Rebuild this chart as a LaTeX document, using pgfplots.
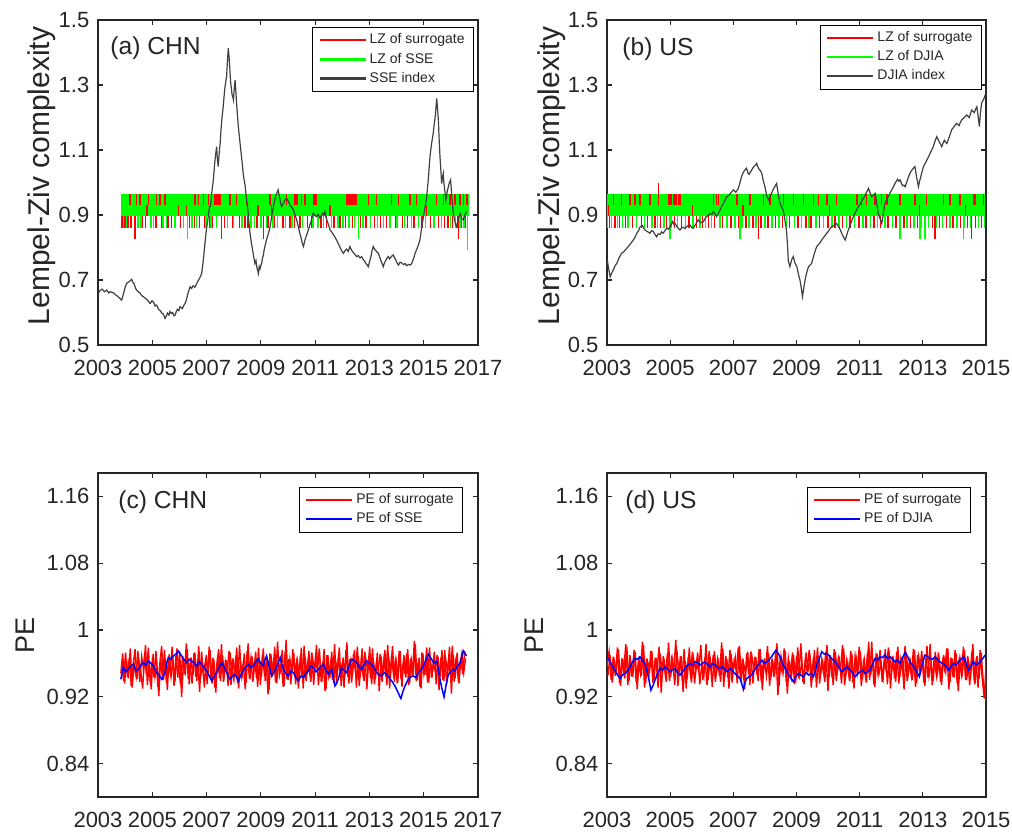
\documentclass[border=0pt]{standalone}
\usepackage{fontspec}
\setmainfont{Liberation Sans}
\usepackage{pgfplots}
\pgfplotsset{compat=1.18}
\usepackage{pgfplotstable}
\definecolor{txt}{HTML}{262626}
\definecolor{axc}{HTML}{262626}
\definecolor{idx}{HTML}{404040}
\definecolor{lzg}{rgb}{0,1,0}
\definecolor{lzr}{rgb}{1,0,0}
\definecolor{peb}{rgb}{0,0,1}

\pgfplotstableread{
y
0.948
0.972
0.936
0.965
0.942
0.978
0.931
0.960
0.945
0.975
0.938
0.968
0.952
0.982
0.934
0.963
0.929
0.971
0.944
0.958
0.921
0.966
0.940
0.976
0.937
0.961
0.948
0.980
0.933
0.969
0.943
0.974
0.920
0.962
0.950
0.977
0.935
0.967
0.946
0.973
0.939
0.981
0.944
0.959
0.931
0.970
0.949
0.976
0.936
0.964
0.925
0.968
0.942
0.983
0.938
0.962
0.951
0.975
0.934
0.966
0.945
0.979
0.930
0.961
0.947
0.972
0.937
0.984
0.941
0.969
0.950
0.974
0.932
0.963
0.944
0.978
0.939
0.967
0.928
0.971
0.946
0.980
0.936
0.960
0.952
0.976
0.933
0.988
0.940
0.965
0.949
0.973
0.935
0.962
0.943
0.979
0.930
0.968
0.947
0.975
0.938
0.966
0.951
0.982
0.934
0.961
0.945
0.977
0.929
0.970
0.942
0.974
0.937
0.964
0.950
0.979
0.933
0.967
0.946
0.985
0.936
0.962
0.948
0.976
0.931
0.969
0.944
0.978
0.939
0.965
0.952
0.980
0.935
0.963
0.941
0.973
0.927
0.968
0.947
0.976
0.934
0.966
0.949
0.981
0.938
0.962
0.945
0.975
0.932
0.970
0.943
0.977
0.936
0.964
0.951
0.983
0.940
0.967
0.930
0.972
0.946
0.979
0.937
0.961
0.948
0.974
0.935
0.968
0.944
0.976
0.939
0.965
0.950
0.980
0.924
0.970
0.942
0.973
0.936
0.966
0.947
0.975
}\pesurrc

\pgfplotstableread{
y
0.961
0.939
0.973
0.944
0.967
0.933
0.958
0.977
0.941
0.964
0.950
0.930
0.970
0.946
0.979
0.937
0.962
0.943
0.975
0.932
0.959
0.981
0.940
0.966
0.928
0.971
0.945
0.963
0.938
0.978
0.953
0.934
0.969
0.947
0.984
0.941
0.960
0.936
0.972
0.944
0.965
0.926
0.974
0.949
0.962
0.935
0.980
0.943
0.967
0.931
0.958
0.977
0.939
0.970
0.946
0.964
0.933
0.973
0.951
0.940
0.968
0.936
0.982
0.945
0.960
0.929
0.975
0.948
0.966
0.938
0.963
0.942
0.979
0.934
0.970
0.950
0.961
0.923
0.972
0.944
0.967
0.937
0.986
0.946
0.958
0.932
0.974
0.941
0.965
0.935
0.977
0.949
0.962
0.930
0.969
0.943
0.981
0.939
0.960
0.947
0.973
0.934
0.966
0.951
0.978
0.938
0.963
0.927
0.970
0.945
0.961
0.940
0.983
0.936
0.968
0.948
0.959
0.931
0.976
0.944
0.965
0.937
0.972
0.950
0.980
0.933
0.962
0.946
0.974
0.929
0.967
0.942
0.978
0.935
0.960
0.952
0.971
0.938
0.964
0.944
0.982
0.930
0.969
0.947
0.963
0.936
0.975
0.941
0.958
0.949
0.972
0.934
0.966
0.945
0.987
0.939
0.961
0.932
0.973
0.948
0.964
0.937
0.979
0.943
0.960
0.951
0.970
0.928
0.967
0.940
0.976
0.935
0.962
0.946
0.981
0.938
0.968
0.944
0.958
0.972
0.949
0.966
}\pesurrcb

\pgfplotstableread{
y
0.956
0.974
0.940
0.968
0.945
0.979
0.936
0.962
0.950
0.983
0.934
0.970
0.944
0.976
0.938
0.961
0.948
0.986
0.931
0.966
0.942
0.975
0.937
0.963
0.952
0.980
0.925
0.969
0.946
0.972
0.939
0.965
0.950
0.988
0.933
0.962
0.944
0.977
0.930
0.968
0.947
0.974
0.936
0.960
0.951
0.982
0.940
0.967
0.934
0.975
0.949
0.970
0.938
0.964
0.945
0.985
0.932
0.969
0.943
0.976
0.937
0.963
0.952
0.979
0.941
0.966
0.929
0.972
0.948
0.974
0.936
0.968
0.946
0.977
0.939
0.961
0.953
0.981
0.933
0.965
0.944
0.975
0.922
0.963
0.950
0.978
0.937
0.966
0.947
0.973
0.935
0.969
0.942
0.984
0.938
0.962
0.951
0.976
0.931
0.967
0.945
0.979
0.936
0.964
0.948
0.974
0.927
0.970
0.943
0.977
0.939
0.966
0.952
0.982
0.934
0.963
0.946
0.975
0.937
0.968
0.949
0.980
0.933
0.961
0.944
0.973
0.940
0.986
0.935
0.967
0.947
0.976
0.938
0.964
0.951
0.979
0.930
0.969
0.942
0.974
0.936
0.965
0.948
0.981
0.939
0.962
0.945
0.977
0.932
0.970
0.950
0.975
0.937
0.966
0.943
0.983
0.934
0.968
0.946
0.973
0.938
0.963
0.952
0.978
0.929
0.967
0.944
0.976
0.936
0.965
0.947
0.980
0.940
0.969
0.934
0.974
0.945
0.962
0.931
0.976
0.942
0.918
0.966
}\pesurrd

\pgfplotstableread{
y
0.946
0.970
0.937
0.963
0.951
0.977
0.933
0.966
0.942
0.980
0.939
0.960
0.948
0.974
0.929
0.968
0.945
0.982
0.936
0.962
0.953
0.975
0.940
0.967
0.931
0.972
0.947
0.961
0.938
0.985
0.944
0.964
0.934
0.976
0.950
0.969
0.926
0.963
0.942
0.979
0.937
0.966
0.952
0.973
0.935
0.960
0.946
0.983
0.940
0.968
0.932
0.975
0.949
0.962
0.938
0.978
0.944
0.965
0.930
0.971
0.951
0.967
0.936
0.981
0.943
0.961
0.947
0.974
0.934
0.969
0.955
0.964
0.939
0.977
0.928
0.966
0.945
0.972
0.941
0.962
0.948
0.984
0.933
0.968
0.950
0.975
0.924
0.963
0.944
0.970
0.937
0.979
0.946
0.961
0.935
0.973
0.952
0.966
0.940
0.976
0.931
0.969
0.947
0.962
0.938
0.982
0.943
0.967
0.934
0.974
0.950
0.964
0.936
0.978
0.945
0.961
0.939
0.971
0.930
0.968
0.953
0.975
0.941
0.963
0.937
0.986
0.946
0.966
0.932
0.972
0.948
0.960
0.943
0.977
0.935
0.969
0.950
0.964
0.938
0.980
0.944
0.967
0.929
0.973
0.947
0.962
0.940
0.976
0.936
0.968
0.952
0.965
0.933
0.981
0.945
0.961
0.939
0.974
0.948
0.963
0.934
0.970
0.951
0.978
0.937
0.966
0.943
0.972
0.927
0.964
0.949
0.976
0.940
0.962
0.946
0.983
0.935
0.969
0.942
0.973
0.938
0.921
0.961
}\pesurrdb

\pgfplotsset{
 base/.style={
  scale only axis, enlargelimits=false, clip=true,
  axis line style={draw=axc, line width=0.55pt},
  tick style={draw=axc, line width=0.55pt},
  tick align=inside, tick pos=both, major tick length=2.6pt,
  tick label style={font=\fontsize{11}{13}\selectfont, text=txt},
  xticklabel style={yshift=-3.8pt},
  yticklabel style={xshift=-0.8pt},
  legend cell align=left,
  legend style={font=\fontsize{7}{8}\selectfont, text=txt, draw=black,
    anchor=north east, inner ysep=1.6pt, nodes={inner sep=1.5pt}},
  legend image code/.code={\draw[line width=1.1pt, ##1] (0pt,0pt) -- (23pt,0pt);},
  ylabel style={text=txt, anchor=center},
 },
 lz/.style={base, ymin=0.5, ymax=1.5, ytick={0.5,0.7,0.9,1.1,1.3,1.5},
  yticklabels={0.5,0.7,0.9,1.1,1.3,1.5}, ylabel={Lempel-Ziv complexity},
  ylabel style={font=\fontsize{15}{17}\selectfont, at={(rel axis cs:-0.147,0.52)}}},
 pe/.style={base, ymin=0.8, ymax=1.188, ytick={0.84,0.92,1,1.08,1.16},
  yticklabels={0.84,0.92,1,1.08,1.16}, ylabel={PE},
  ylabel style={font=\fontsize{13.5}{15}\selectfont, at={(rel axis cs:-0.192,0.5)}}},
}
\tikzset{lab/.style={anchor=base west, inner sep=0pt, font=\fontsize{12.3}{14}\selectfont, text=txt}}

\begin{document}
\begin{tikzpicture}
\path[use as bounding box] (0pt,0pt) rectangle (506pt,-418.5pt);

% ---------------- (a) CHN LZ ----------------
\begin{axis}[lz, at={(49pt,-172.5pt)}, anchor=south west, width=190pt, height=162.5pt,
  xmin=2003, xmax=2017, xtick={2003,2005,2007,2009,2011,2013,2015,2017},
  xticklabels={2003,2005,2007,2009,2011,2013,2015,2017},
  legend style={at={(0.9895,0.978)}}]
\addplot[fill=lzg, draw=none, forget plot] coordinates {(2003.84,0.896) (2016.67,0.896) (2016.67,0.965) (2003.84,0.965)};
\addplot[lzr, line width=0.7pt, forget plot, quiver={u=0,v=0.035}] coordinates {
(2004.18,0.930)(2004.42,0.930)(2004.55,0.930)(2004.85,0.930)(2005.16,0.930)(2005.28,0.930)(2005.47,0.930)
(2006.57,0.930)(2006.70,0.930)(2006.88,0.930)(2007.07,0.930)(2007.31,0.930)(2007.38,0.930)(2007.43,0.930)
(2007.49,0.930)(2007.86,0.930)(2008.11,0.930)(2008.48,0.930)(2009.34,0.930)(2009.95,0.930)(2010.26,0.930)
(2010.29,0.930)(2010.32,0.930)(2010.35,0.930)(2010.50,0.930)(2010.63,0.930)(2010.93,0.930)(2011.00,0.930)
(2011.03,0.930)(2011.06,0.930)(2012.16,0.930)(2012.20,0.930)(2012.24,0.930)(2012.28,0.930)(2012.32,0.930)
(2012.36,0.930)(2012.41,0.930)(2012.45,0.930)(2012.49,0.930)(2012.53,0.930)(2012.96,0.930)(2013.27,0.930)
(2013.82,0.930)(2014.06,0.930)(2014.49,0.930)(2014.74,0.930)(2015.48,0.930)(2015.72,0.930)(2015.97,0.930)
(2016.15,0.930)(2016.34,0.930)(2016.46,0.930)(2016.60,0.930)};
\addplot[lzr, line width=0.7pt, forget plot, quiver={u=0,v=0.034}] coordinates {
(2004.80,0.896)(2005.96,0.896)(2006.27,0.896)(2008.90,0.896)(2009.40,0.896)(2011.55,0.896)(2015.11,0.896)};
\addplot[lzr, line width=0.7pt, forget plot, quiver={u=0,v=0.035}] coordinates {
(2003.88,0.861)(2003.99,0.861)(2004.10,0.861)(2004.22,0.861)(2004.64,0.861)(2004.76,0.861)(2005.14,0.861)
(2005.33,0.861)(2005.58,0.861)(2005.71,0.861)(2006.05,0.861)(2006.36,0.861)(2006.55,0.861)(2006.74,0.861)
(2006.93,0.861)(2007.11,0.861)(2007.22,0.861)(2007.67,0.861)(2007.95,0.861)(2008.22,0.861)(2008.41,0.861)
(2008.53,0.861)(2008.86,0.861)(2009.27,0.861)(2009.50,0.861)(2009.81,0.861)(2010.08,0.861)(2010.25,0.861)
(2010.44,0.861)(2010.71,0.861)(2010.86,0.861)(2011.22,0.861)(2011.42,0.861)(2011.70,0.861)(2011.92,0.861)
(2012.12,0.861)(2012.37,0.861)(2012.66,0.861)(2012.88,0.861)(2013.19,0.861)(2013.40,0.861)(2013.62,0.861)
(2013.97,0.861)(2014.21,0.861)(2014.40,0.861)(2014.64,0.861)(2014.93,0.861)(2015.25,0.861)(2015.55,0.861)
(2015.77,0.861)(2015.90,0.861)(2016.05,0.861)(2016.25,0.861)(2016.40,0.861)(2016.55,0.861)};
\addplot[lzg, line width=0.7pt, forget plot, quiver={u=0,v=0.035}] coordinates {
(2003.93,0.861)(2004.04,0.861)(2004.47,0.861)(2004.58,0.861)(2004.95,0.861)(2005.05,0.861)(2005.40,0.861)
(2005.52,0.861)(2005.84,0.861)(2006.16,0.861)(2006.46,0.861)(2006.63,0.861)(2006.98,0.861)(2007.16,0.861)
(2007.36,0.861)(2007.78,0.861)(2008.00,0.861)(2008.30,0.861)(2008.64,0.861)(2008.76,0.861)(2009.00,0.861)
(2009.20,0.861)(2009.44,0.861)(2009.62,0.861)(2009.90,0.861)(2010.14,0.861)(2010.54,0.861)(2010.92,0.861)
(2011.10,0.861)(2011.30,0.861)(2011.60,0.861)(2011.84,0.861)(2012.02,0.861)(2012.24,0.861)(2012.46,0.861)
(2012.76,0.861)(2013.05,0.861)(2013.30,0.861)(2013.52,0.861)(2013.76,0.861)(2014.02,0.861)(2014.30,0.861)
(2014.55,0.861)(2014.80,0.861)(2015.06,0.861)(2015.38,0.861)(2015.66,0.861)(2015.98,0.861)(2016.16,0.861)
(2016.33,0.861)(2016.48,0.861)};
\addplot[lzr, line width=0.7pt, forget plot, quiver={u=0,v=0.069}] coordinates {
(2004.36,0.827)(2007.56,0.827)(2009.09,0.827)(2016.28,0.827)};
\addplot[lzg, line width=0.7pt, forget plot, quiver={u=0,v=0.069}] coordinates {
(2006.30,0.827)(2012.59,0.827)};
\addplot[lzg, line width=0.7pt, forget plot, quiver={u=0,v=0.103}] coordinates {(2016.62,0.793)};
\addplot[idx, line width=0.6pt, forget plot] coordinates {
(2003.01,0.659)(2003.08,0.668)(2003.15,0.672)(2003.24,0.664)(2003.32,0.669)(2003.40,0.660)(2003.45,0.664)
(2003.56,0.661)(2003.64,0.655)(2003.72,0.650)(2003.80,0.644)(2003.87,0.638)(2003.92,0.652)(2003.96,0.665)
(2004.01,0.680)(2004.06,0.690)(2004.15,0.695)(2004.24,0.702)(2004.29,0.692)(2004.33,0.688)(2004.38,0.676)
(2004.42,0.669)(2004.49,0.663)(2004.55,0.660)(2004.61,0.652)(2004.67,0.649)(2004.74,0.644)(2004.80,0.640)
(2004.86,0.634)(2004.92,0.628)(2004.99,0.636)(2005.05,0.632)(2005.10,0.620)(2005.16,0.623)(2005.23,0.610)
(2005.30,0.605)(2005.35,0.598)(2005.40,0.596)(2005.47,0.582)(2005.52,0.590)(2005.56,0.598)(2005.61,0.592)
(2005.65,0.603)(2005.70,0.597)(2005.75,0.600)(2005.80,0.590)(2005.84,0.592)(2005.89,0.604)(2005.93,0.610)
(2005.98,0.606)(2006.02,0.618)(2006.07,0.615)(2006.11,0.612)(2006.16,0.622)(2006.21,0.628)(2006.26,0.640)
(2006.30,0.655)(2006.35,0.668)(2006.39,0.679)(2006.45,0.674)(2006.50,0.682)(2006.57,0.678)(2006.64,0.690)
(2006.69,0.698)(2006.74,0.705)(2006.78,0.712)(2006.82,0.720)(2006.88,0.760)(2006.94,0.813)(2007.00,0.860)
(2007.04,0.880)(2007.07,0.905)(2007.11,0.925)(2007.15,0.930)(2007.20,0.975)(2007.25,1.008)(2007.30,1.060)
(2007.34,1.090)(2007.37,1.110)(2007.40,1.070)(2007.43,1.049)(2007.47,1.095)(2007.50,1.120)(2007.53,1.160)
(2007.56,1.192)(2007.59,1.215)(2007.62,1.240)(2007.65,1.270)(2007.68,1.295)(2007.71,1.310)(2007.74,1.330)
(2007.77,1.375)(2007.80,1.413)(2007.83,1.385)(2007.85,1.360)(2007.87,1.330)(2007.89,1.305)(2007.92,1.285)
(2007.94,1.270)(2007.97,1.262)(2007.99,1.254)(2008.02,1.290)(2008.05,1.315)(2008.08,1.280)(2008.10,1.250)
(2008.14,1.205)(2008.17,1.172)(2008.21,1.140)(2008.26,1.100)(2008.30,1.070)(2008.35,1.028)(2008.38,1.010)
(2008.42,0.990)(2008.45,0.965)(2008.48,0.946)(2008.51,0.925)(2008.54,0.900)(2008.57,0.870)(2008.60,0.844)
(2008.65,0.815)(2008.70,0.790)(2008.74,0.770)(2008.78,0.751)(2008.82,0.760)(2008.85,0.740)(2008.88,0.730)
(2008.91,0.720)(2008.94,0.742)(2008.97,0.735)(2009.00,0.745)(2009.03,0.751)(2009.06,0.768)(2009.09,0.775)
(2009.12,0.792)(2009.15,0.803)(2009.20,0.822)(2009.25,0.835)(2009.30,0.850)(2009.34,0.864)(2009.38,0.885)
(2009.43,0.910)(2009.48,0.932)(2009.52,0.950)(2009.55,0.960)(2009.58,0.965)(2009.61,0.972)(2009.64,0.977)
(2009.67,0.962)(2009.70,0.950)(2009.73,0.935)(2009.77,0.926)(2009.81,0.934)(2009.86,0.940)(2009.90,0.948)
(2009.95,0.951)(2010.01,0.942)(2010.08,0.930)(2010.14,0.924)(2010.20,0.915)(2010.25,0.902)(2010.30,0.890)
(2010.34,0.878)(2010.38,0.864)(2010.43,0.846)(2010.48,0.830)(2010.52,0.815)(2010.57,0.803)(2010.61,0.818)
(2010.65,0.830)(2010.70,0.842)(2010.75,0.854)(2010.80,0.868)(2010.85,0.880)(2010.89,0.894)(2010.93,0.905)
(2010.99,0.899)(2011.05,0.895)(2011.11,0.902)(2011.18,0.890)(2011.23,0.898)(2011.28,0.905)(2011.32,0.900)
(2011.36,0.910)(2011.40,0.893)(2011.45,0.880)(2011.50,0.868)(2011.55,0.854)(2011.61,0.848)(2011.67,0.840)
(2011.73,0.832)(2011.79,0.823)(2011.85,0.812)(2011.92,0.800)(2011.98,0.790)(2012.04,0.782)(2012.10,0.790)
(2012.16,0.795)(2012.22,0.788)(2012.28,0.803)(2012.34,0.792)(2012.40,0.785)(2012.47,0.778)(2012.53,0.772)
(2012.59,0.775)(2012.65,0.768)(2012.71,0.772)(2012.78,0.762)(2012.83,0.757)(2012.88,0.750)(2012.92,0.746)
(2012.96,0.741)(2013.00,0.755)(2013.05,0.770)(2013.09,0.788)(2013.14,0.803)(2013.19,0.795)(2013.24,0.790)
(2013.28,0.786)(2013.33,0.782)(2013.38,0.770)(2013.42,0.760)(2013.47,0.750)(2013.51,0.741)(2013.55,0.752)
(2013.60,0.760)(2013.65,0.768)(2013.70,0.772)(2013.74,0.765)(2013.79,0.770)(2013.83,0.774)(2013.88,0.777)
(2013.93,0.768)(2013.98,0.760)(2014.02,0.752)(2014.07,0.746)(2014.13,0.755)(2014.20,0.752)(2014.26,0.747)
(2014.31,0.751)(2014.37,0.744)(2014.44,0.748)(2014.50,0.746)(2014.56,0.751)(2014.59,0.758)(2014.62,0.765)
(2014.65,0.772)(2014.68,0.782)(2014.72,0.790)(2014.77,0.800)(2014.82,0.812)(2014.86,0.823)(2014.89,0.840)
(2014.92,0.860)(2014.96,0.878)(2014.99,0.895)(2015.02,0.910)(2015.05,0.925)(2015.08,0.940)(2015.11,0.956)
(2015.14,0.985)(2015.17,1.010)(2015.20,1.045)(2015.23,1.079)(2015.26,1.100)(2015.29,1.120)(2015.32,1.135)
(2015.35,1.151)(2015.38,1.175)(2015.42,1.200)(2015.45,1.230)(2015.48,1.259)(2015.51,1.225)(2015.54,1.192)
(2015.57,1.130)(2015.60,1.079)(2015.63,1.040)(2015.66,0.997)(2015.69,1.015)(2015.72,1.028)(2015.74,1.000)
(2015.77,0.980)(2015.80,0.960)(2015.82,0.946)(2015.85,0.962)(2015.87,0.975)(2015.89,0.981)(2015.91,0.987)
(2015.93,0.995)(2015.95,1.000)(2015.97,1.004)(2015.99,1.008)(2016.02,0.975)(2016.04,0.950)(2016.07,0.925)
(2016.09,0.905)(2016.12,0.892)(2016.15,0.880)(2016.18,0.870)(2016.21,0.864)(2016.25,0.878)(2016.28,0.890)
(2016.31,0.897)(2016.34,0.905)(2016.37,0.898)(2016.40,0.890)(2016.43,0.887)(2016.46,0.885)(2016.49,0.894)
(2016.52,0.900)(2016.55,0.906)(2016.58,0.910)};
\addlegendimage{draw=lzr}\addlegendentry{LZ of surrogate}
\addlegendimage{draw=lzg}\addlegendentry{LZ of SSE}
\addlegendimage{draw=idx}\addlegendentry{SSE index}
\node[lab] at (rel axis cs:0.0316,0.895) {(a) CHN};
\end{axis}

% ---------------- (b) US LZ ----------------
\begin{axis}[lz, at={(303.5pt,-172.5pt)}, anchor=south west, width=189.5pt, height=162.5pt,
  xmin=2003, xmax=2015, xtick={2003,2005,2007,2009,2011,2013,2015},
  xticklabels={2003,2005,2007,2009,2011,2013,2015},
  legend style={at={(0.989,0.985)}}]
\addplot[fill=lzg, draw=none, forget plot] coordinates {(2003.01,0.896) (2014.98,0.896) (2014.98,0.965) (2003.01,0.965)};
\addplot[lzr, line width=0.7pt, forget plot, quiver={u=0,v=0.035}] coordinates {
(2003.20,0.930)(2003.46,0.930)(2003.73,0.930)(2003.89,0.930)(2004.04,0.930)(2004.36,0.930)(2004.94,0.930)
(2004.99,0.930)(2005.04,0.930)(2005.10,0.930)(2005.15,0.930)(2005.20,0.930)(2005.26,0.930)(2005.31,0.930)
(2006.37,0.930)(2006.47,0.930)(2006.53,0.930)(2007.11,0.930)(2007.53,0.930)(2007.95,0.930)(2008.16,0.930)
(2008.58,0.930)(2008.90,0.930)(2009.22,0.930)(2009.53,0.930)(2009.69,0.930)(2009.96,0.930)(2010.27,0.930)
(2010.91,0.930)(2011.06,0.930)(2011.22,0.930)(2011.49,0.930)(2011.70,0.930)(2011.86,0.930)(2012.28,0.930)
(2012.75,0.930)(2013.12,0.930)(2013.65,0.930)(2013.86,0.930)(2014.18,0.930)(2014.60,0.930)(2014.65,0.930)
(2014.92,0.930)};
\addplot[lzr, line width=0.7pt, forget plot, quiver={u=0,v=0.069}] coordinates {(2004.63,0.930)};
\addplot[lzr, line width=0.7pt, forget plot, quiver={u=0,v=0.034}] coordinates {
(2003.05,0.896)(2005.70,0.896)(2007.30,0.896)(2010.05,0.896)(2012.90,0.896)(2014.35,0.896)};
\addplot[lzr, line width=0.7pt, forget plot, quiver={u=0,v=0.035}] coordinates {
(2003.08,0.861)(2003.25,0.861)(2003.40,0.861)(2003.58,0.861)(2003.80,0.861)(2004.10,0.861)(2004.28,0.861)
(2004.52,0.861)(2004.70,0.861)(2004.88,0.861)(2005.13,0.861)(2005.36,0.861)(2005.60,0.861)(2005.84,0.861)
(2006.02,0.861)(2006.21,0.861)(2006.40,0.861)(2006.65,0.861)(2006.92,0.861)(2007.18,0.861)(2007.40,0.861)
(2007.62,0.861)(2007.88,0.861)(2008.10,0.861)(2008.33,0.861)(2008.55,0.861)(2008.78,0.861)(2009.05,0.861)
(2009.30,0.861)(2009.46,0.861)(2009.72,0.861)(2010.00,0.861)(2010.22,0.861)(2010.46,0.861)(2010.70,0.861)
(2010.98,0.861)(2011.20,0.861)(2011.45,0.861)(2011.66,0.861)(2011.90,0.861)(2012.15,0.861)(2012.40,0.861)
(2012.60,0.861)(2012.84,0.861)(2013.06,0.861)(2013.30,0.861)(2013.52,0.861)(2013.74,0.861)(2013.95,0.861)
(2014.20,0.861)(2014.42,0.861)(2014.66,0.861)(2014.85,0.861)};
\addplot[lzg, line width=0.7pt, forget plot, quiver={u=0,v=0.035}] coordinates {
(2003.02,0.861)(2003.14,0.861)(2003.33,0.861)(2003.50,0.861)(2003.66,0.861)(2003.94,0.861)(2004.18,0.861)
(2004.42,0.861)(2004.60,0.861)(2004.80,0.861)(2005.02,0.861)(2005.24,0.861)(2005.48,0.861)(2005.72,0.861)
(2005.95,0.861)(2006.12,0.861)(2006.30,0.861)(2006.58,0.861)(2006.80,0.861)(2007.05,0.861)(2007.28,0.861)
(2007.50,0.861)(2007.72,0.861)(2008.00,0.861)(2008.22,0.861)(2008.44,0.861)(2008.68,0.861)(2008.94,0.861)
(2009.16,0.861)(2009.40,0.861)(2009.62,0.861)(2009.86,0.861)(2010.12,0.861)(2010.35,0.861)(2010.58,0.861)
(2010.84,0.861)(2011.10,0.861)(2011.34,0.861)(2011.56,0.861)(2011.80,0.861)(2012.04,0.861)(2012.26,0.861)
(2012.50,0.861)(2012.72,0.861)(2012.96,0.861)(2013.18,0.861)(2013.42,0.861)(2013.62,0.861)(2013.86,0.861)
(2014.08,0.861)(2014.30,0.861)(2014.52,0.861)(2014.76,0.861)(2014.96,0.861)};
\addplot[lzr, line width=0.7pt, forget plot, quiver={u=0,v=0.069}] coordinates {
(2007.79,0.827)(2013.39,0.827)(2014.55,0.827)};
\addplot[lzg, line width=0.7pt, forget plot, quiver={u=0,v=0.069}] coordinates {
(2004.99,0.827)(2007.21,0.827)(2012.28,0.827)(2012.91,0.827)(2013.07,0.827)(2014.28,0.827)};
\addplot[idx, line width=0.6pt, forget plot] coordinates {
(2003.01,0.762)(2003.05,0.735)(2003.10,0.710)(2003.15,0.722)(2003.20,0.731)(2003.26,0.745)(2003.31,0.751)
(2003.38,0.768)(2003.46,0.782)(2003.54,0.788)(2003.62,0.797)(2003.72,0.808)(2003.83,0.823)(2003.89,0.832)
(2003.95,0.845)(2004.00,0.852)(2004.05,0.864)(2004.12,0.868)(2004.16,0.860)(2004.20,0.854)(2004.28,0.849)
(2004.36,0.844)(2004.41,0.852)(2004.46,0.850)(2004.52,0.840)(2004.57,0.833)(2004.62,0.842)(2004.68,0.840)
(2004.73,0.848)(2004.78,0.844)(2004.84,0.853)(2004.90,0.860)(2004.95,0.856)(2005.00,0.864)(2005.04,0.872)
(2005.08,0.880)(2005.12,0.871)(2005.15,0.874)(2005.23,0.862)(2005.31,0.854)(2005.36,0.860)(2005.42,0.862)
(2005.47,0.858)(2005.52,0.864)(2005.57,0.868)(2005.62,0.870)(2005.68,0.862)(2005.73,0.859)(2005.81,0.872)
(2005.89,0.885)(2005.97,0.876)(2006.05,0.879)(2006.10,0.888)(2006.15,0.895)(2006.21,0.899)(2006.26,0.905)
(2006.32,0.902)(2006.37,0.910)(2006.42,0.903)(2006.47,0.895)(2006.55,0.910)(2006.63,0.926)(2006.71,0.940)
(2006.79,0.956)(2006.85,0.960)(2006.90,0.965)(2006.95,0.972)(2007.00,0.977)(2007.08,0.970)(2007.16,0.982)
(2007.21,1.000)(2007.26,1.018)(2007.30,1.028)(2007.34,1.035)(2007.38,1.040)(2007.42,1.044)(2007.46,1.030)
(2007.50,1.025)(2007.54,1.032)(2007.58,1.038)(2007.62,1.045)(2007.66,1.050)(2007.70,1.053)(2007.74,1.059)
(2007.78,1.048)(2007.82,1.040)(2007.86,1.036)(2007.90,1.028)(2007.95,1.005)(2008.00,0.987)(2008.05,0.962)
(2008.11,0.946)(2008.16,0.955)(2008.21,0.967)(2008.26,0.978)(2008.30,0.985)(2008.34,0.992)(2008.37,0.997)
(2008.42,0.965)(2008.48,0.936)(2008.53,0.925)(2008.58,0.915)(2008.61,0.898)(2008.64,0.880)(2008.67,0.862)
(2008.69,0.844)(2008.72,0.800)(2008.74,0.760)(2008.77,0.748)(2008.79,0.741)(2008.82,0.752)(2008.84,0.760)
(2008.87,0.768)(2008.90,0.772)(2008.93,0.760)(2008.96,0.750)(2008.99,0.745)(2009.01,0.741)(2009.04,0.728)
(2009.07,0.715)(2009.09,0.707)(2009.11,0.700)(2009.15,0.676)(2009.19,0.649)(2009.23,0.675)(2009.27,0.700)
(2009.32,0.722)(2009.38,0.741)(2009.43,0.746)(2009.48,0.751)(2009.52,0.766)(2009.56,0.780)(2009.60,0.792)
(2009.64,0.803)(2009.72,0.812)(2009.80,0.823)(2009.88,0.834)(2009.96,0.844)(2010.04,0.854)(2010.11,0.864)
(2010.19,0.868)(2010.27,0.874)(2010.32,0.866)(2010.36,0.860)(2010.40,0.851)(2010.43,0.844)(2010.49,0.832)
(2010.54,0.823)(2010.59,0.838)(2010.64,0.854)(2010.72,0.874)(2010.80,0.895)(2010.88,0.911)(2010.96,0.926)
(2011.04,0.938)(2011.12,0.951)(2011.20,0.966)(2011.28,0.982)(2011.33,0.968)(2011.38,0.956)(2011.44,0.962)
(2011.49,0.967)(2011.54,0.936)(2011.59,0.905)(2011.64,0.890)(2011.70,0.874)(2011.75,0.905)(2011.80,0.936)
(2011.88,0.952)(2011.96,0.967)(2012.04,0.982)(2012.12,0.997)(2012.16,1.004)(2012.20,1.010)(2012.24,1.004)
(2012.28,1.008)(2012.32,0.998)(2012.36,0.990)(2012.40,0.992)(2012.44,0.987)(2012.48,0.998)(2012.52,1.010)
(2012.55,1.018)(2012.59,1.028)(2012.63,1.035)(2012.67,1.040)(2012.71,1.045)(2012.75,1.049)(2012.80,1.018)
(2012.86,0.987)(2012.90,1.005)(2012.94,1.020)(2012.98,1.035)(2013.02,1.049)(2013.10,1.064)(2013.18,1.079)
(2013.25,1.094)(2013.33,1.110)(2013.38,1.126)(2013.44,1.141)(2013.48,1.133)(2013.52,1.125)(2013.56,1.118)
(2013.60,1.110)(2013.64,1.121)(2013.68,1.130)(2013.72,1.124)(2013.76,1.120)(2013.84,1.141)(2013.91,1.162)
(2013.99,1.172)(2014.07,1.182)(2014.11,1.178)(2014.15,1.175)(2014.19,1.186)(2014.23,1.192)(2014.31,1.200)
(2014.39,1.208)(2014.43,1.204)(2014.47,1.200)(2014.51,1.212)(2014.55,1.223)(2014.59,1.219)(2014.63,1.215)
(2014.67,1.225)(2014.71,1.233)(2014.75,1.205)(2014.79,1.172)(2014.82,1.210)(2014.86,1.244)(2014.89,1.250)
(2014.92,1.255)(2014.95,1.262)(2014.97,1.269)};
\addlegendimage{draw=lzr}\addlegendentry{LZ of surrogate}
\addlegendimage{draw=lzg}\addlegendentry{LZ of DJIA}
\addlegendimage{draw=idx}\addlegendentry{DJIA index}
\node[lab] at (rel axis cs:0.0396,0.892) {(b) US};
\end{axis}

% ---------------- (c) CHN PE ----------------
\begin{axis}[pe, at={(49pt,-398.5pt)}, anchor=south west, width=190pt, height=162pt,
  xmin=2003, xmax=2017, xtick={2003,2005,2007,2009,2011,2013,2015,2017},
  xticklabels={2003,2005,2007,2009,2011,2013,2015,2017},
  legend style={at={(0.9605,0.957)}}]
\addplot[lzr, line width=0.7pt, forget plot] table[x expr=2003.84+0.07*\coordindex, y=y] {\pesurrc};
\addplot[lzr, line width=0.7pt, forget plot] table[x expr=2003.875+0.07*\coordindex, y=y] {\pesurrcb};
\addplot[peb, line width=0.75pt, forget plot] coordinates {
(2003.84,0.941)(2003.93,0.955)(2004.03,0.950)(2004.12,0.953)(2004.21,0.957)(2004.30,0.959)(2004.40,0.951)
(2004.49,0.953)(2004.58,0.958)(2004.67,0.961)(2004.76,0.958)(2004.85,0.963)(2004.95,0.960)(2005.04,0.957)
(2005.13,0.951)(2005.22,0.947)(2005.35,0.941)(2005.47,0.949)(2005.53,0.960)(2005.59,0.967)(2005.68,0.965)
(2005.78,0.969)(2005.87,0.971)(2005.96,0.975)(2006.02,0.972)(2006.08,0.969)(2006.18,0.964)(2006.27,0.961)
(2006.36,0.965)(2006.45,0.963)(2006.55,0.960)(2006.64,0.957)(2006.73,0.962)(2006.82,0.959)(2006.91,0.955)
(2007.00,0.951)(2007.10,0.945)(2007.19,0.939)(2007.28,0.944)(2007.37,0.949)(2007.47,0.956)(2007.56,0.961)
(2007.62,0.957)(2007.68,0.953)(2007.77,0.947)(2007.86,0.941)(2007.96,0.945)(2008.05,0.947)(2008.11,0.943)
(2008.17,0.939)(2008.26,0.946)(2008.35,0.951)(2008.45,0.956)(2008.54,0.959)(2008.63,0.955)(2008.72,0.957)
(2008.82,0.962)(2008.91,0.965)(2009.00,0.960)(2009.09,0.957)(2009.15,0.964)(2009.21,0.969)(2009.30,0.957)
(2009.40,0.945)(2009.49,0.950)(2009.58,0.955)(2009.65,0.962)(2009.71,0.967)(2009.77,0.959)(2009.83,0.953)
(2009.92,0.948)(2010.01,0.945)(2010.11,0.951)(2010.20,0.949)(2010.29,0.943)(2010.38,0.939)(2010.48,0.945)
(2010.57,0.943)(2010.66,0.948)(2010.75,0.951)(2010.84,0.957)(2010.93,0.955)(2011.03,0.950)(2011.12,0.953)
(2011.21,0.956)(2011.30,0.959)(2011.40,0.952)(2011.49,0.947)(2011.55,0.951)(2011.61,0.953)(2011.67,0.942)
(2011.73,0.933)(2011.79,0.936)(2011.85,0.941)(2011.92,0.949)(2011.98,0.955)(2012.07,0.951)(2012.16,0.949)
(2012.26,0.958)(2012.35,0.965)(2012.44,0.963)(2012.53,0.961)(2012.62,0.956)(2012.71,0.953)(2012.81,0.959)
(2012.90,0.963)(2012.99,0.961)(2013.08,0.959)(2013.18,0.954)(2013.27,0.949)(2013.36,0.946)(2013.45,0.945)
(2013.54,0.949)(2013.63,0.947)(2013.73,0.943)(2013.82,0.939)(2013.88,0.936)(2013.94,0.933)(2014.00,0.929)
(2014.06,0.925)(2014.11,0.921)(2014.16,0.918)(2014.23,0.926)(2014.31,0.933)(2014.37,0.937)(2014.43,0.941)
(2014.53,0.944)(2014.62,0.945)(2014.71,0.943)(2014.80,0.949)(2014.90,0.952)(2014.99,0.957)(2015.08,0.964)
(2015.17,0.971)(2015.23,0.968)(2015.29,0.965)(2015.38,0.960)(2015.48,0.963)(2015.54,0.952)(2015.60,0.941)
(2015.67,0.930)(2015.75,0.920)(2015.83,0.935)(2015.91,0.947)(2016.00,0.950)(2016.09,0.953)(2016.15,0.951)
(2016.21,0.955)(2016.28,0.958)(2016.34,0.961)(2016.40,0.968)(2016.46,0.975)(2016.52,0.972)(2016.58,0.969)};
\addlegendimage{draw=lzr}\addlegendentry{PE of surrogate}
\addlegendimage{draw=peb}\addlegendentry{PE of SSE}
\node[lab] at (rel axis cs:0.0526,0.892) {(c) CHN};
\end{axis}

% ---------------- (d) US PE ----------------
\begin{axis}[pe, at={(303.5pt,-398.5pt)}, anchor=south west, width=189.5pt, height=162pt,
  xmin=2003, xmax=2015, xtick={2003,2005,2007,2009,2011,2013,2015},
  xticklabels={2003,2005,2007,2009,2011,2013,2015},
  legend style={at={(0.960,0.957)}}]
\addplot[lzr, line width=0.7pt, forget plot] table[x expr=2003.0+0.066*\coordindex, y=y] {\pesurrd};
\addplot[lzr, line width=0.7pt, forget plot] table[x expr=2003.033+0.066*\coordindex, y=y] {\pesurrdb};
\addplot[peb, line width=0.75pt, forget plot] coordinates {
(2003.01,0.967)(2003.08,0.963)(2003.15,0.958)(2003.23,0.953)(2003.31,0.948)(2003.36,0.945)(2003.41,0.942)
(2003.49,0.946)(2003.57,0.948)(2003.65,0.951)(2003.73,0.956)(2003.81,0.962)(2003.89,0.966)(2003.96,0.965)
(2004.04,0.968)(2004.12,0.964)(2004.20,0.960)(2004.26,0.952)(2004.31,0.944)(2004.35,0.936)(2004.39,0.928)
(2004.45,0.933)(2004.52,0.940)(2004.60,0.948)(2004.68,0.954)(2004.76,0.952)(2004.84,0.956)(2004.92,0.953)
(2004.99,0.950)(2005.07,0.952)(2005.15,0.954)(2005.23,0.949)(2005.31,0.946)(2005.39,0.950)(2005.47,0.954)
(2005.55,0.958)(2005.63,0.960)(2005.71,0.958)(2005.79,0.962)(2005.87,0.961)(2005.94,0.958)(2006.02,0.960)
(2006.10,0.962)(2006.18,0.959)(2006.26,0.956)(2006.34,0.960)(2006.42,0.958)(2006.50,0.955)(2006.58,0.954)
(2006.66,0.956)(2006.74,0.952)(2006.82,0.950)(2006.89,0.954)(2006.97,0.951)(2007.05,0.948)(2007.13,0.945)
(2007.21,0.942)(2007.27,0.935)(2007.32,0.929)(2007.37,0.937)(2007.42,0.942)(2007.50,0.944)(2007.58,0.946)
(2007.66,0.951)(2007.74,0.956)(2007.82,0.960)(2007.90,0.964)(2007.98,0.960)(2008.06,0.962)(2008.14,0.965)
(2008.21,0.968)(2008.28,0.972)(2008.35,0.976)(2008.42,0.972)(2008.48,0.968)(2008.56,0.960)(2008.64,0.954)
(2008.72,0.948)(2008.79,0.944)(2008.85,0.941)(2008.90,0.938)(2008.98,0.944)(2009.06,0.948)(2009.14,0.946)
(2009.22,0.944)(2009.30,0.949)(2009.38,0.946)(2009.46,0.948)(2009.53,0.944)(2009.59,0.950)(2009.64,0.958)
(2009.72,0.966)(2009.80,0.974)(2009.88,0.971)(2009.96,0.972)(2010.04,0.969)(2010.11,0.966)(2010.19,0.963)
(2010.27,0.960)(2010.35,0.955)(2010.43,0.950)(2010.51,0.953)(2010.59,0.956)(2010.67,0.953)(2010.75,0.950)
(2010.80,0.947)(2010.85,0.944)(2010.93,0.947)(2011.01,0.950)(2011.09,0.952)(2011.17,0.948)(2011.25,0.950)
(2011.33,0.952)(2011.41,0.959)(2011.49,0.966)(2011.57,0.964)(2011.64,0.968)(2011.72,0.967)(2011.80,0.970)
(2011.88,0.966)(2011.96,0.968)(2012.04,0.965)(2012.12,0.962)(2012.20,0.964)(2012.28,0.960)(2012.36,0.967)
(2012.44,0.973)(2012.52,0.968)(2012.59,0.962)(2012.67,0.958)(2012.75,0.954)(2012.82,0.949)(2012.89,0.944)
(2012.93,0.950)(2012.96,0.956)(2013.02,0.964)(2013.07,0.970)(2013.15,0.968)(2013.23,0.966)(2013.31,0.965)
(2013.39,0.968)(2013.47,0.964)(2013.54,0.962)(2013.62,0.960)(2013.70,0.958)(2013.76,0.955)(2013.81,0.952)
(2013.89,0.956)(2013.97,0.960)(2014.05,0.958)(2014.13,0.962)(2014.21,0.965)(2014.29,0.968)(2014.37,0.960)
(2014.44,0.952)(2014.52,0.957)(2014.60,0.962)(2014.68,0.958)(2014.76,0.960)(2014.81,0.962)(2014.86,0.964)
(2014.92,0.967)(2014.97,0.970)};
\addlegendimage{draw=lzr}\addlegendentry{PE of surrogate}
\addlegendimage{draw=peb}\addlegendentry{PE of DJIA}
\node[lab] at (rel axis cs:0.0475,0.892) {(d) US};
\end{axis}
\end{tikzpicture}
\end{document}
